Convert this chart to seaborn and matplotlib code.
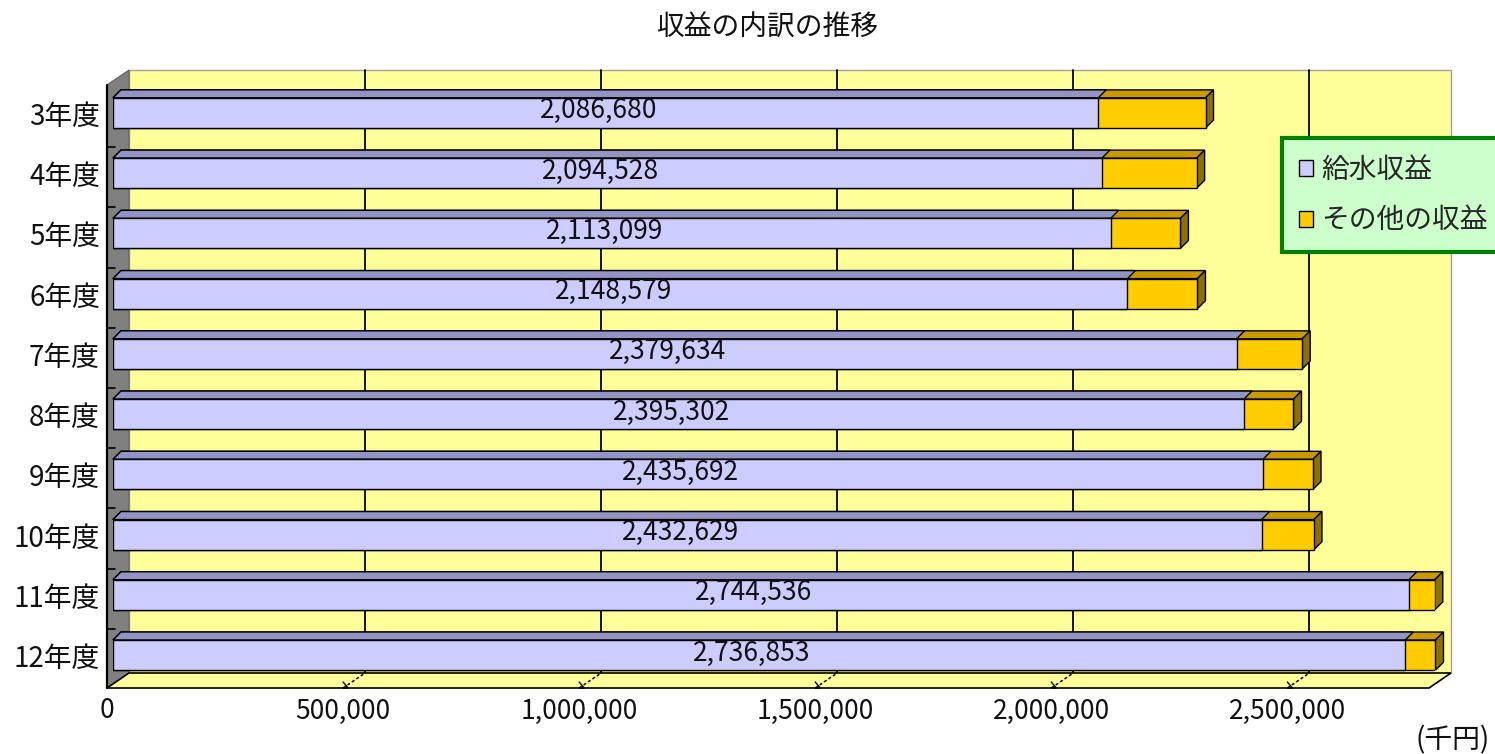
import matplotlib
matplotlib.use('Agg')
import matplotlib.pyplot as plt
import seaborn as sns
import pandas as pd
import numpy as np
from matplotlib.patches import Polygon, Patch
from matplotlib.transforms import IdentityTransform

# ---------------- data ----------------
years = ['3年度', '4年度', '5年度', '6年度', '7年度', '8年度', '9年度', '10年度', '11年度', '12年度']
water = [2086680, 2094528, 2113099, 2148579, 2379634, 2395302, 2435692, 2432629, 2744536, 2736853]
other = [227300, 200600, 147700, 148300, 139200, 105000, 105900, 111000, 55000, 64200]
xticks = [0, 500000, 1000000, 1500000, 2000000, 2500000]
xticklabels = ['0', '500,000', '1,000,000', '1,500,000', '2,000,000', '2,500,000']
series_names = ['給水収益', 'その他の収益']
title = '収益の内訳の推移'
unit = '(千円)'
xmax = 2800000

# ---------------- style ----------------
c_water, c_water_top = '#CCCCFF', '#9494C4'
c_other, c_other_top, c_other_side = '#FFCC00', '#C99A00', '#8C7000'
c_wall, c_side_wall = '#FFFF99', '#808080'

sns.set_theme(style='white')
plt.rcParams['font.family'] = ['Noto Sans CJK JP', 'DejaVu Sans']

W, H = 1495, 754
fig = plt.figure(figsize=(W / 100, H / 100), dpi=100)
L, R, T, B = 113, 1435, 81, 684
ax = fig.add_axes([L / W, 1 - B / H, (R - L) / W, (B - T) / H])

df = pd.DataFrame({'year': years, 'water': water, 'other': other})
df['total'] = df['water'] + df['other']

sns.barplot(data=df, x='total', y='year', orient='h', color=c_other, saturation=1,
            width=0.5, edgecolor='black', linewidth=1, errorbar=None, ax=ax)
n_other = len(ax.patches)
sns.barplot(data=df, x='water', y='year', orient='h', color=c_water, saturation=1,
            width=0.5, edgecolor='black', linewidth=1, errorbar=None, ax=ax)
other_bars = ax.patches[:n_other]
water_bars = ax.patches[n_other:]

ax.set_xlim(0, xmax)
ax.set_ylim(len(years) - 1 + 0.48, -0.53)
ax.set_xlabel('')
ax.set_ylabel('')
ax.set_xticks([])
ax.set_yticks([])
for s in ax.spines.values():
    s.set_visible(False)
ax.patch.set_alpha(0)

FRONT = np.array([-6.0, -4.0])
BACK = np.array([16.0, 11.0])
DEPTH = np.array([8.0, 8.0])
ident = IdentityTransform()


def dpx(x, y, off=(0, 0)):
    return ax.transData.transform((x, y)) + np.asarray(off)


def apx(x, y, off=(0, 0)):
    return ax.transAxes.transform((x, y)) + np.asarray(off)


def poly(pts, fc, ec='black', lw=1.0, z=1.0):
    ax.add_patch(Polygon(pts, closed=True, facecolor=fc, edgecolor=ec, linewidth=lw,
                         transform=ident, clip_on=False, zorder=z))


# back wall
poly([apx(0, 0, BACK), apx(1, 0, BACK), apx(1, 1, BACK), apx(0, 1, BACK)],
     c_wall, ec='#A0A0A0', lw=1, z=0.2)
# gridlines on back wall
ybot, ytop = ax.get_ylim()
for xt in xticks[1:]:
    p0, p1 = dpx(xt, ybot, BACK), dpx(xt, ytop, BACK)
    ax.add_line(plt.Line2D([p0[0], p1[0]], [p0[1], p1[1]], color='black', lw=1.3,
                           transform=ident, clip_on=False, zorder=0.4))
# left wall
poly([apx(0, 0, FRONT), apx(0, 0, BACK), apx(0, 1, BACK), apx(0, 1, FRONT)],
     c_side_wall, ec='#606060', lw=0.8, z=0.6)
fa, fb = apx(0, 0, FRONT), apx(0, 1, FRONT)
ax.add_line(plt.Line2D([fa[0], fb[0]], [fa[1], fb[1]], color='black', lw=1.6,
                       transform=ident, clip_on=False, zorder=0.9))
# floor
poly([apx(0, 0, FRONT), apx(1, 0, FRONT), apx(1, 0, BACK), apx(0, 0, BACK)],
     c_wall, ec='black', lw=1.2, z=0.7)
# floor tick marks
for xt in xticks[1:]:
    p0, p1 = dpx(xt, ybot, FRONT), dpx(xt, ybot, BACK)
    ax.add_line(plt.Line2D([p0[0], p1[0]], [p0[1], p1[1]], color='black', lw=1.1,
                           ls=(0, (2, 1.5)), transform=ident, clip_on=False, zorder=0.8))
    ax.add_line(plt.Line2D([p0[0], p0[0] + 5, p0[0]], [p0[1] + 6, p0[1], p0[1]], color='black',
                           lw=1.0, transform=ident, clip_on=False, zorder=0.8))
# y tick marks on left wall
for i in range(len(years) - 1):
    p0 = dpx(0, i + 0.5, FRONT)
    ax.add_line(plt.Line2D([p0[0], p0[0] + 8], [p0[1], p0[1]], color='black', lw=1.2,
                           transform=ident, clip_on=False, zorder=0.9))


def faces(bar, top_color, side_color, z, side=True):
    x0, w = bar.get_x(), bar.get_width()
    y0, h = bar.get_y(), bar.get_height()
    ya, yb = dpx(x0, y0)[1], dpx(x0, y0 + h)[1]
    top_y, bot_y = max(ya, yb), min(ya, yb)
    xl, xr = dpx(x0, 0)[0], dpx(x0 + w, 0)[0]
    tl, tr = np.array([xl, top_y]), np.array([xr, top_y])
    br = np.array([xr, bot_y])
    poly([tl, tr, tr + DEPTH, tl + DEPTH], top_color, lw=1.0, z=z)
    if side:
        poly([tr, br, br + DEPTH, tr + DEPTH], side_color, lw=1.0, z=z)


for b in other_bars:
    faces(b, c_other_top, c_other_side, 3.0)
    b.set_zorder(4.0)
for b in water_bars:
    faces(b, c_water_top, c_water_top, 3.1, side=False)
    b.set_zorder(4.1)

# value labels
for i, v in enumerate(water):
    ax.annotate(f'{v:,}', xy=(v / 2, i), xytext=(-7, 2), textcoords='offset pixels',
                ha='center', va='center', fontsize=19, color='#111111', zorder=6,
                annotation_clip=False)

# category labels
for i, y in enumerate(years):
    ax.annotate(y, xy=(0, i), xytext=(-13, -4), textcoords='offset pixels',
                ha='right', va='center', fontsize=20, color='#111111', annotation_clip=False)

# x tick labels
for xt, lab in zip(xticks, xticklabels):
    ax.annotate(lab, xy=(xt, ybot), xytext=(-6, -27), textcoords='offset pixels',
                ha='center', va='center', fontsize=19, color='#111111', annotation_clip=False)

fig.text(767 / W, 1 - 28 / H, title, ha='center', va='center', fontsize=20, color='#111111')
fig.text(1490 / W, 1 - 740 / H, unit, ha='right', va='center', fontsize=20, color='#111111')

handles = [Patch(facecolor=c_water, edgecolor='black', linewidth=1),
           Patch(facecolor=c_other, edgecolor='black', linewidth=1)]
leg = fig.legend(handles, series_names, loc='upper left', bbox_to_anchor=(1282 / W, 1 - 138 / H),
                 bbox_transform=fig.transFigure, frameon=True, fancybox=False,
                 facecolor='#CCFFCC', edgecolor='#008000', framealpha=1, fontsize=20,
                 handlelength=0.5, handleheight=0.5, handletextpad=0.3,
                 borderpad=0.6, labelspacing=0.75, borderaxespad=0)
leg.get_frame().set_linewidth(3)

fig.savefig('out.png', dpi=100)
